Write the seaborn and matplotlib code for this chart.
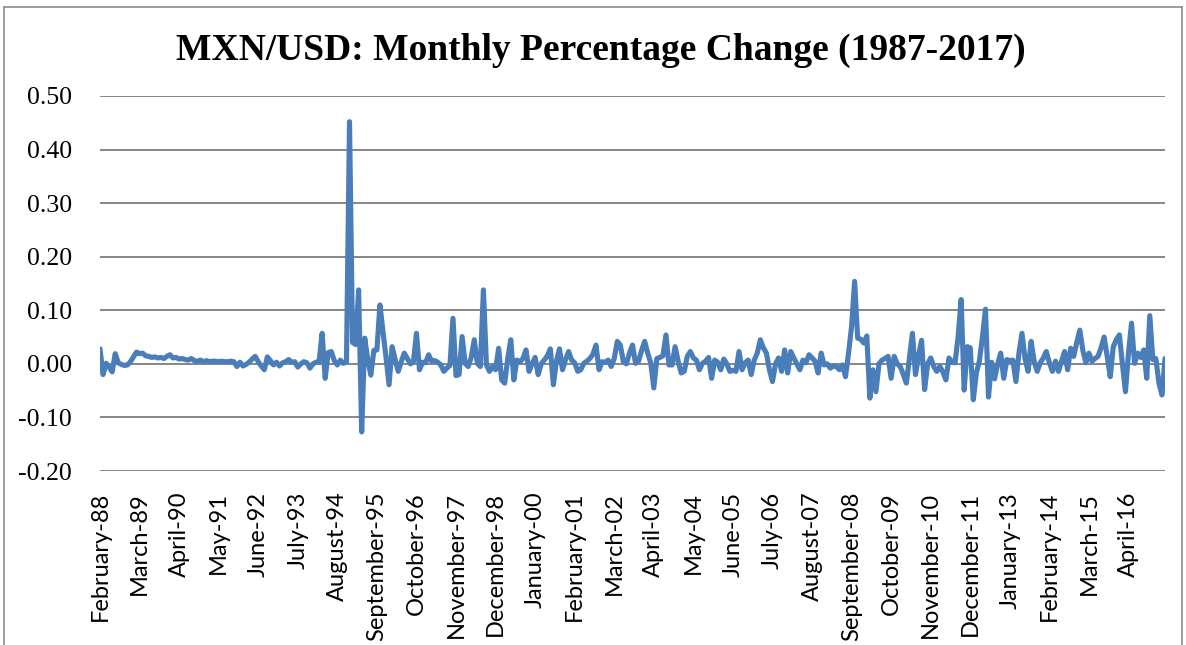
import numpy as np
import pandas as pd
import matplotlib
matplotlib.use("Agg")
import matplotlib.pyplot as plt
from matplotlib.lines import Line2D
import seaborn as sns

# Monthly percentage change of the MXN/USD rate, February 1988 - April 2017
pct_change = [
    0.028, -0.020, 0.001, -0.006, -0.015, 0.019, 0.002, -0.001, -0.003, -0.002,
    0.004, 0.013, 0.022, 0.019, 0.020, 0.015, 0.014, 0.012, 0.013, 0.011,
    0.012, 0.010, 0.014, 0.017, 0.011, 0.012, 0.009, 0.010, 0.008, 0.007,
    0.010, 0.006, 0.005, 0.007, 0.004, 0.006, 0.004, 0.005, 0.005, 0.004,
    0.005, 0.004, 0.004, 0.005, 0.004, -0.005, 0.003, -0.004, -0.001, 0.003,
    0.009, 0.014, 0.004, -0.004, -0.011, 0.013, 0.006, -0.002, 0.003, -0.004,
    0.002, 0.004, 0.008, 0.003, 0.004, -0.006, 0.000, 0.004, 0.002, -0.008,
    0.000, 0.003, 0.004, 0.057, -0.027, 0.021, 0.023, 0.006, -0.002, 0.007,
    0.001, 0.004, 0.452, 0.040, 0.036, 0.138, -0.127, 0.048, 0.008, -0.021,
    0.025, 0.026, 0.110, 0.060, 0.012, -0.039, 0.032, 0.008, -0.014, 0.004,
    0.020, 0.010, 0.000, 0.004, 0.057, -0.011, 0.003, 0.002, 0.017, 0.005,
    0.006, 0.003, -0.002, -0.014, -0.008, -0.003, 0.085, -0.022, -0.020, 0.051,
    0.001, -0.005, 0.012, 0.045, 0.001, -0.005, 0.138, -0.002, -0.014, -0.005,
    -0.011, 0.029, -0.030, -0.036, 0.010, 0.045, -0.030, 0.007, 0.004, 0.010,
    0.026, -0.014, 0.000, 0.012, -0.020, 0.000, 0.007, 0.015, 0.028, -0.039,
    0.005, 0.028, -0.011, 0.008, 0.023, 0.007, 0.002, -0.014, -0.011, 0.001,
    0.005, 0.010, 0.018, 0.035, -0.011, 0.004, 0.003, 0.007, -0.005, 0.010,
    0.042, 0.035, 0.004, 0.000, 0.020, 0.035, 0.001, 0.005, 0.025, 0.042,
    0.020, 0.002, -0.045, 0.010, 0.012, 0.015, 0.054, -0.002, -0.002, 0.032,
    0.005, -0.017, -0.014, 0.014, 0.023, 0.011, 0.007, -0.011, 0.001, 0.005,
    0.012, -0.027, 0.007, 0.003, -0.011, 0.009, 0.000, -0.014, -0.012, -0.014,
    0.023, -0.011, 0.002, 0.007, -0.020, 0.007, 0.020, 0.045, 0.030, 0.020,
    -0.011, -0.033, 0.000, 0.011, -0.014, 0.026, -0.017, 0.023, 0.011, 0.000,
    -0.011, 0.007, 0.002, 0.017, 0.011, 0.005, -0.017, 0.020, -0.002, 0.000,
    -0.008, -0.004, -0.005, -0.011, -0.002, -0.024, 0.020, 0.070, 0.154, 0.048,
    0.046, 0.039, 0.052, -0.064, -0.011, -0.052, 0.000, 0.007, 0.010, 0.014,
    -0.027, 0.014, 0.000, -0.005, -0.020, -0.036, 0.010, 0.057, -0.020, 0.015,
    0.044, -0.048, 0.000, 0.011, -0.005, -0.014, -0.005, -0.015, -0.030, 0.011,
    0.003, 0.002, 0.050, 0.120, -0.049, 0.032, 0.030, -0.067, -0.017, 0.005,
    0.050, 0.102, -0.062, 0.003, -0.028, 0.000, 0.020, -0.027, 0.008, 0.006,
    0.007, -0.033, 0.020, 0.057, 0.010, -0.014, 0.042, 0.005, -0.014, 0.002,
    0.011, 0.023, 0.002, -0.014, 0.005, -0.014, 0.005, 0.023, -0.011, 0.029,
    0.014, 0.040, 0.063, 0.025, 0.002, 0.020, 0.005, 0.010, 0.014, 0.030,
    0.050, 0.014, -0.024, 0.032, 0.045, 0.054, 0.000, -0.052, 0.020, 0.076,
    0.001, 0.020, 0.012, 0.026, -0.027, 0.090, 0.008, 0.010, -0.036, -0.058,
    0.010,
]

months = pd.date_range("1988-02-01", periods=len(pct_change), freq="MS")

tick_labels = [
    "February-88", "March-89", "April-90", "May-91", "June-92", "July-93",
    "August-94", "September-95", "October-96", "November-97", "December-98",
    "January-00", "February-01", "March-02", "April-03", "May-04", "June-05",
    "July-06", "August-07", "September-08", "October-09", "November-10",
    "December-11", "January-13", "February-14", "March-15", "April-16",
]
label_step = 13

y_ticks = [-0.20, -0.10, 0.00, 0.10, 0.20, 0.30, 0.40, 0.50]

df = pd.DataFrame({"pos": np.arange(len(pct_change)), "month": months,
                   "change": pct_change})

sns.set_style("white")
plt.rcParams["font.family"] = ["Liberation Serif", "DejaVu Serif"]
plt.rcParams["text.color"] = "black"
plt.rcParams["xtick.color"] = "black"
plt.rcParams["ytick.color"] = "black"

W, H = 1186, 645
fig = plt.figure(figsize=(W / 100, H / 100), dpi=100)
ax = fig.add_axes([100 / W, 1 - 471 / H, (1165 - 100) / W, (471 - 96) / H])

sns.lineplot(data=df, x="pos", y="change", ax=ax, color="#4A7EBB",
             linewidth=3.7, solid_capstyle="round", solid_joinstyle="round",
             zorder=3)

ax.set_xlim(0, len(pct_change) - 1)
ax.set_ylim(-0.20, 0.50)
ax.set_yticks(y_ticks)
ax.set_yticklabels([f"{v:.2f}" for v in y_ticks], fontsize=18.5,
                   family=["Liberation Serif", "DejaVu Serif"], color="black")
ax.yaxis.grid(True, color="#868686", linewidth=1.4, zorder=1)
ax.xaxis.grid(False)

tick_pos = df["pos"].iloc[::label_step].to_numpy()[:len(tick_labels)]
ax.set_xticks(tick_pos)
ax.set_xticklabels(tick_labels, rotation=90, fontsize=17,
                   family=["Lato", "DejaVu Sans"], va="top", ha="center",
                   color="black")
ax.tick_params(axis="x", length=0, pad=15)
ax.tick_params(axis="y", length=0, pad=20)

for side in ["left", "right", "top", "bottom"]:
    ax.spines[side].set_visible(False)

ax.set_xlabel("")
ax.set_ylabel("")

fig.text(601 / W, 1 - 50 / H, "MXN/USD: Monthly Percentage Change (1987-2017)",
         ha="center", va="center", fontsize=27, fontweight="bold",
         color="black", family=["Liberation Serif", "DejaVu Serif"])

# chart-area frame
frame = dict(color="#8C8C8C", linewidth=1.2, transform=fig.transFigure)
fig.add_artist(Line2D([4 / W, 4 / W], [0, 1 - 7 / H], **frame))
fig.add_artist(Line2D([4 / W, 1182 / W], [1 - 7 / H, 1 - 7 / H], **frame))
fig.add_artist(Line2D([1182 / W, 1182 / W], [0, 1 - 7 / H], **frame))

fig.savefig("out.png", dpi=100)
